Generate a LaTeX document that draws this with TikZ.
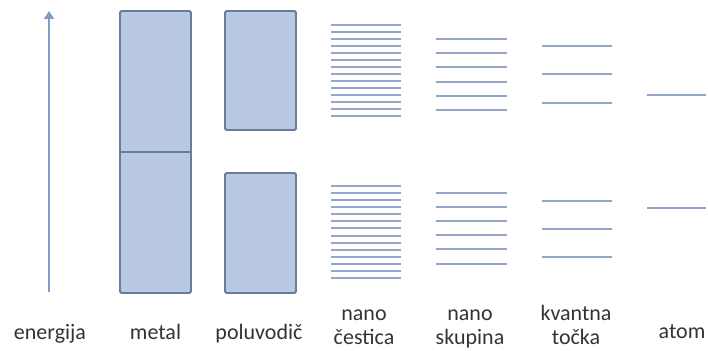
\documentclass[tikz,border=0pt]{standalone}
\usepackage{fontspec}
\setmainfont{Carlito}
\usetikzlibrary{arrows.meta}
\definecolor{bandfill}{HTML}{B8C9E1}
\definecolor{banddraw}{HTML}{6B7C99}
\definecolor{levelcol}{HTML}{95A6CA}
\definecolor{arrowcol}{HTML}{7F9FC9}
\definecolor{textcol}{HTML}{333333}
\tikzset{
  bandbox/.style={fill=bandfill, draw=banddraw, line width=1.8pt, rounded corners=1.5pt},
  bandsep/.style={draw=banddraw, line width=1.8pt},
  level/.style={draw=levelcol, line width=2pt},
  energyarrow/.style={draw=arrowcol, line width=1.8pt, -{Triangle[length=8pt,width=10pt]}},
  lbl/.style={anchor=base, text=textcol, font=\fontsize{22}{26}\selectfont, inner sep=0pt}
}
\begin{document}
\begin{tikzpicture}[x=1pt,y=-1pt]
\useasboundingbox (0,0) rectangle (708,350);
% energy arrow
\coordinate (ebot) at (49,292);
\coordinate (etop) at (49,11);
\draw[energyarrow] (ebot) -- (etop);
% metal
\draw[bandbox] (120,11) rectangle (191,293);
\draw[bandsep] (120,152) -- (191,152);
% semiconductor
\draw[bandbox] (225,11) rectangle (296,130);
\draw[bandbox] (225,173) rectangle (296,293);
% nano particle
\foreach \i in {0,...,13} {
  \pgfmathsetmacro{\ya}{round(25+7.0*\i)}
  \pgfmathsetmacro{\yb}{round(186+7.08*\i)}
  \draw[level] (331,\ya) -- (401,\ya);
  \draw[level] (331,\yb) -- (401,\yb);
}
% nano cluster
\foreach \i in {0,...,5} {
  \pgfmathsetmacro{\ya}{round(39+14.2*\i)}
  \pgfmathsetmacro{\yb}{round(193+14.1*\i)}
  \draw[level] (436,\ya) -- (507,\ya);
  \draw[level] (436,\yb) -- (507,\yb);
}
% quantum dot
\foreach \i in {0,1,2} {
  \pgfmathsetmacro{\ya}{round(46+28.3*\i)}
  \pgfmathsetmacro{\yb}{round(201+28.2*\i)}
  \draw[level] (542,\ya) -- (612,\ya);
  \draw[level] (542,\yb) -- (612,\yb);
}
% atom
\draw[level] (647,95) -- (706,95);
\draw[level] (647,208) -- (706,208);
% labels
\node[lbl] (lenergija) at (50,339) {energija};
\node[lbl] (lmetal) at (155.5,339) {metal};
\node[lbl] (lpoluvodic) at (259,339) {poluvodič};
\node[lbl] (lnanoc1) at (364,320) {nano};
\node[lbl] (lnanoc2) at (364,344) {čestica};
\node[lbl] (lnanos1) at (470,320) {nano};
\node[lbl] (lnanos2) at (470,344) {skupina};
\node[lbl] (lkvant1) at (576,320) {kvantna};
\node[lbl] (lkvant2) at (576,344) {točka};
\node[lbl] (latom) at (682,338) {atom};
\end{tikzpicture}
\end{document}
